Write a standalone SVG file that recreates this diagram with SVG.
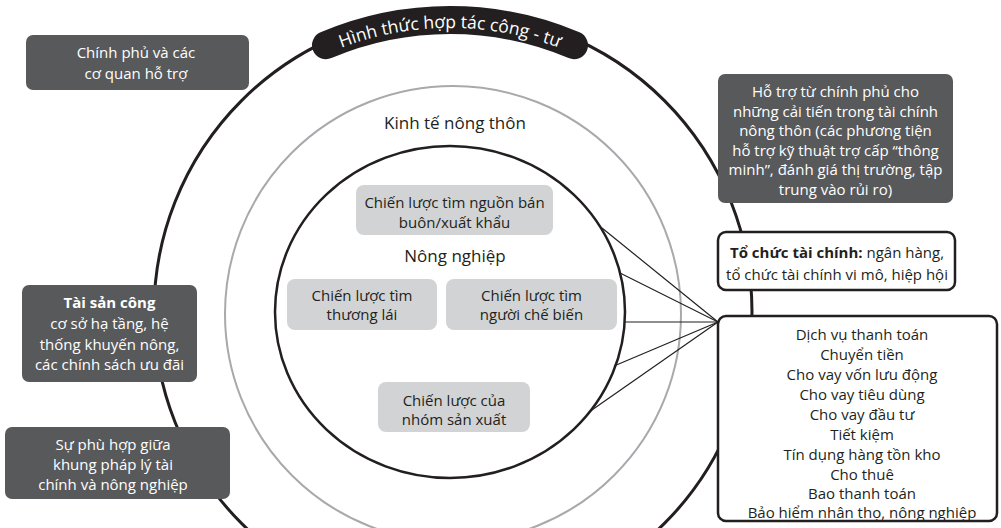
<svg xmlns="http://www.w3.org/2000/svg" width="1001" height="528" viewBox="0 0 1001 528">
<style>
text{font-family:"Open Sans","Noto Sans","DejaVu Sans",sans-serif;font-size:15px;text-anchor:middle;fill:#231f20}
.w{fill:#ffffff}
.b{font-weight:bold}
.dark{fill:#58595b}
.light{fill:#d1d3d4}
.frame{fill:#ffffff;stroke:#231f20;stroke-width:2.5}
.big{font-size:17px}
.con line{stroke:#231f20;stroke-width:1.2}
</style>
<defs>
<path id="titleArc" d="M 250 101.1 A 310 310 0 0 1 650 101.1" fill="none"/>
</defs>
<rect width="1001" height="528" fill="#ffffff"/>
<g id="rings">
<circle cx="453" cy="312" r="299" fill="none" stroke="#231f20" stroke-width="3"/>
<circle cx="453" cy="314" r="228" fill="none" stroke="#a7a9ac" stroke-width="2"/>
<ellipse cx="450" cy="312" rx="175" ry="166" fill="none" stroke="#231f20" stroke-width="2.5"/>
</g>
<g id="connectors" class="con">
<line x1="718" y1="322" x2="602" y2="228"/>
<line x1="718" y1="322" x2="620" y2="273"/>
<line x1="718" y1="322" x2="625" y2="322"/>
<line x1="718" y1="322" x2="614" y2="366"/>
<line x1="718" y1="322" x2="589" y2="412"/>
</g>
<g id="title">
<path d="M 326 45.2 A 318 318 0 0 1 574 45.2" fill="none" stroke="#231f20" stroke-width="28" stroke-linecap="round"/>
<text class="w" style="font-size:17.5px"><textPath href="#titleArc" startOffset="50%">Hình thức hợp tác công - tư</textPath></text>
</g>
<g id="label-rural"><text class="big" x="455" y="129">Kinh tế nông thôn</text></g>
<g id="label-agri"><text class="big" x="455" y="262">Nông nghiệp</text></g>
<g id="gov">
<rect class="dark" x="26" y="35" width="223" height="55" rx="7"/>
<text class="w" x="136" y="58">Chính phủ và các</text>
<text class="w" x="136" y="79">cơ quan hỗ trợ</text>
</g>
<g id="support">
<rect class="dark" x="718" y="74" width="235" height="129" rx="7"/>
<text class="w" x="835.5" y="97">Hỗ trợ từ chính phủ cho</text>
<text class="w" x="835.5" y="116.5">những cải tiến trong tài chính</text>
<text class="w" x="835.5" y="136">nông thôn (các phương tiện</text>
<text class="w" x="835.5" y="155.5">hỗ trợ kỹ thuật trợ cấp “thông</text>
<text class="w" x="835.5" y="175">minh”, đánh giá thị trường, tập</text>
<text class="w" x="835.5" y="194.5">trung vào rủi ro)</text>
</g>
<g id="fin-inst">
<rect class="frame" x="718" y="232" width="237" height="58" rx="8"/>
<text x="837" y="258"><tspan class="b">Tổ chức tài chính:</tspan> ngân hàng,</text>
<text x="837" y="280">tổ chức tài chính vi mô, hiệp hội</text>
</g>
<g id="services">
<rect class="frame" x="718" y="316" width="279" height="205" rx="8"/>
<text x="862" y="340">Dịch vụ thanh toán</text>
<text x="862" y="360">Chuyển tiền</text>
<text x="862" y="380">Cho vay vốn lưu động</text>
<text x="862" y="400">Cho vay tiêu dùng</text>
<text x="862" y="420">Cho vay đầu tư</text>
<text x="862" y="440">Tiết kiệm</text>
<text x="862" y="460">Tín dụng hàng tồn kho</text>
<text x="862" y="480">Cho thuê</text>
<text x="862" y="499">Bao thanh toán</text>
<text x="862" y="518">Bảo hiểm nhân thọ, nông nghiệp</text>
</g>
<g id="public-assets">
<rect class="dark" x="22" y="285" width="175" height="97" rx="7"/>
<text class="w b" x="109.5" y="308">Tài sản công</text>
<text class="w" x="109.5" y="329">cơ sở hạ tầng, hệ</text>
<text class="w" x="109.5" y="349.5">thống khuyến nông,</text>
<text class="w" x="109.5" y="370">các chính sách ưu đãi</text>
</g>
<g id="legal">
<rect class="dark" x="5" y="427" width="225" height="72" rx="7"/>
<text class="w" x="113" y="450">Sự phù hợp giữa</text>
<text class="w" x="113" y="470">khung pháp lý tài</text>
<text class="w" x="113" y="490">chính và nông nghiệp</text>
</g>
<g id="wholesale">
<rect class="light" x="356" y="185" width="197" height="50" rx="8"/>
<text x="454.5" y="208">Chiến lược tìm nguồn bán</text>
<text x="454.5" y="228">buôn/xuất khẩu</text>
</g>
<g id="traders">
<rect class="light" x="287" y="279" width="150" height="51" rx="8"/>
<text x="362" y="301">Chiến lược tìm</text>
<text x="362" y="320">thương lái</text>
</g>
<g id="processors">
<rect class="light" x="446" y="279" width="171" height="51" rx="8"/>
<text x="531.5" y="301">Chiến lược tìm</text>
<text x="531.5" y="320">người chế biến</text>
</g>
<g id="producers">
<rect class="light" x="378" y="382" width="152" height="50" rx="8"/>
<text x="454" y="406">Chiến lược của</text>
<text x="454" y="425">nhóm sản xuất</text>
</g>
</svg>
